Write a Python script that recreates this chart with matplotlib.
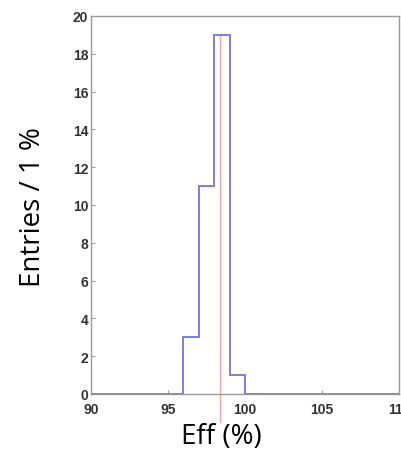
import matplotlib
matplotlib.use("Agg")
import matplotlib.pyplot as plt
import numpy as np

# Histogram of efficiency (1 % bins)
bin_edges = [90, 91, 92, 93, 94, 95, 96, 97, 98, 99, 100, 101, 102, 103, 104, 105, 106, 107, 108, 109, 110]
counts = [0, 0, 0, 0, 0, 0, 3, 11, 19, 1, 0, 0, 0, 0, 0, 0, 0, 0, 0, 0]
mean_eff = 98.4
mean_line_range = [-1.5, 19]

xticks = [90, 95, 100, 105, 110]
yticks = [0, 2, 4, 6, 8, 10, 12, 14, 16, 18, 20]

fig = plt.figure(figsize=(4.02, 4.60), dpi=100)
ax = fig.add_axes([91 / 402, 65 / 460, 308 / 402, 378 / 460])

ax.stairs(counts, bin_edges, color="#7b7bef", linewidth=1.4, zorder=3)
ax.plot([mean_eff, mean_eff], mean_line_range, color="#f2a3a3", linewidth=1.0,
        clip_on=False, zorder=2)

ax.set_xlim(90, 110)
ax.set_ylim(0, 20)
ax.set_xticks(xticks)
ax.set_yticks(yticks)
tick_font = dict(family="Liberation Sans", fontweight="bold", fontsize=10, color="#333333")
ax.set_xticklabels([str(t) for t in xticks], **tick_font)
ax.set_yticklabels([str(t) for t in yticks], **tick_font)
ax.tick_params(direction="in", length=3, width=0.6, color="#888888")
ax.tick_params(axis="y", pad=2)
ax.tick_params(axis="x", pad=6)
for s in ax.spines.values():
    s.set_color("#999999")
    s.set_linewidth(1.0)

ax.set_xlabel("Eff (%)", family="Open Sans", fontsize=20)
ax.set_ylabel("Entries / 1 %", family="Open Sans", fontsize=20)
ax.xaxis.set_label_coords((221 - 91) / 308, -(437 - 395) / 378, transform=ax.transAxes)
ax.yaxis.set_label_coords(-(91 - 33) / 308, (395 - 207) / 378, transform=ax.transAxes)
ax.xaxis.label.set_verticalalignment("center")
ax.yaxis.label.set_verticalalignment("center")

fig.savefig("out.png", dpi=100)
